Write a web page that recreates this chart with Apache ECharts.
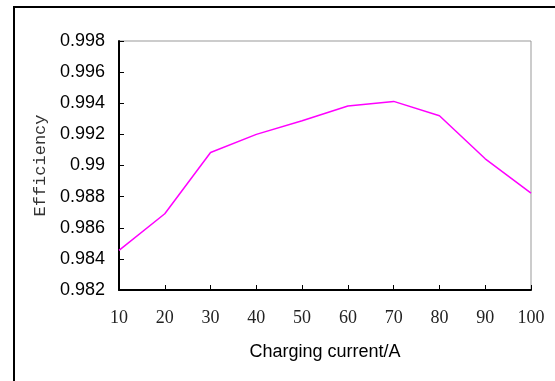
<!DOCTYPE html>
<html>
<head>
	<meta charset="UTF-8">
	<title>Efficiency vs charging current</title>
	<script src="https://cdn.jsdelivr.net/npm/echarts@6/dist/echarts.min.js"></script>
	<style>
		html, body { margin: 0; padding: 0; background: #fff; }
		#main { width: 555px; height: 381px; }
	</style>
</head>
<body>
<div id="main"></div>
<script type="text/javascript">
    // data
    var currents = ['10', '20', '30', '40', '50', '60', '70', '80', '90', '100'];
    var efficiency = [0.98455, 0.98690, 0.99084, 0.99200, 0.99288, 0.99382, 0.99412, 0.99320, 0.99043, 0.98823];
    var yMin = 0.982, yMax = 0.998, yStep = 0.002;

    var myChart = echarts.init(document.getElementById('main'));

    myChart.setOption({
        animation: false,
        backgroundColor: '#fff',
        graphic: [
            // outer frame of the figure (only top and left show)
            {
                type: 'rect',
                shape: {x: 14, y: 7, width: 700, height: 500},
                style: {fill: 'none', stroke: '#000', lineWidth: 2}
            }
        ],
        grid: {
            left: 119,
            top: 41,
            right: 24,
            bottom: 91,
            show: true,
            borderColor: '#999',
            borderWidth: 1
        },
        xAxis: {
            type: 'category',
            data: currents,
            boundaryGap: false,
            name: 'Charging current/A',
            nameLocation: 'middle',
            nameGap: 53,
            nameTextStyle: {fontFamily: 'Liberation Sans', fontSize: 18, color: '#000'},
            axisLine: {lineStyle: {color: '#000', width: 2}},
            axisTick: {inside: true, length: 5, lineStyle: {color: '#000', width: 1}},
            axisLabel: {margin: 19, fontFamily: 'Liberation Serif', fontSize: 18, color: '#222'},
            splitLine: {show: false}
        },
        yAxis: {
            type: 'value',
            min: yMin,
            max: yMax,
            interval: yStep,
            name: 'Efficiency',
            nameLocation: 'middle',
            nameGap: 67,
            nameRotate: 90,
            nameTextStyle: {fontFamily: 'Liberation Mono', fontSize: 17, color: '#333'},
            axisLine: {show: true, lineStyle: {color: '#000', width: 2}},
            axisTick: {show: true, inside: true, length: 5, lineStyle: {color: '#000', width: 1}},
            axisLabel: {
                margin: 14,
                fontFamily: 'Liberation Sans',
                fontSize: 18,
                color: '#000',
                formatter: function (v) {
                    return String(parseFloat(v.toFixed(3)));
                }
            },
            splitLine: {show: false}
        },
        series: [
            {
                type: 'line',
                data: efficiency,
                showSymbol: false,
                symbol: 'none',
                lineStyle: {color: '#ff00ff', width: 1.5}
            }
        ]
    });
</script>
</body>
</html>
